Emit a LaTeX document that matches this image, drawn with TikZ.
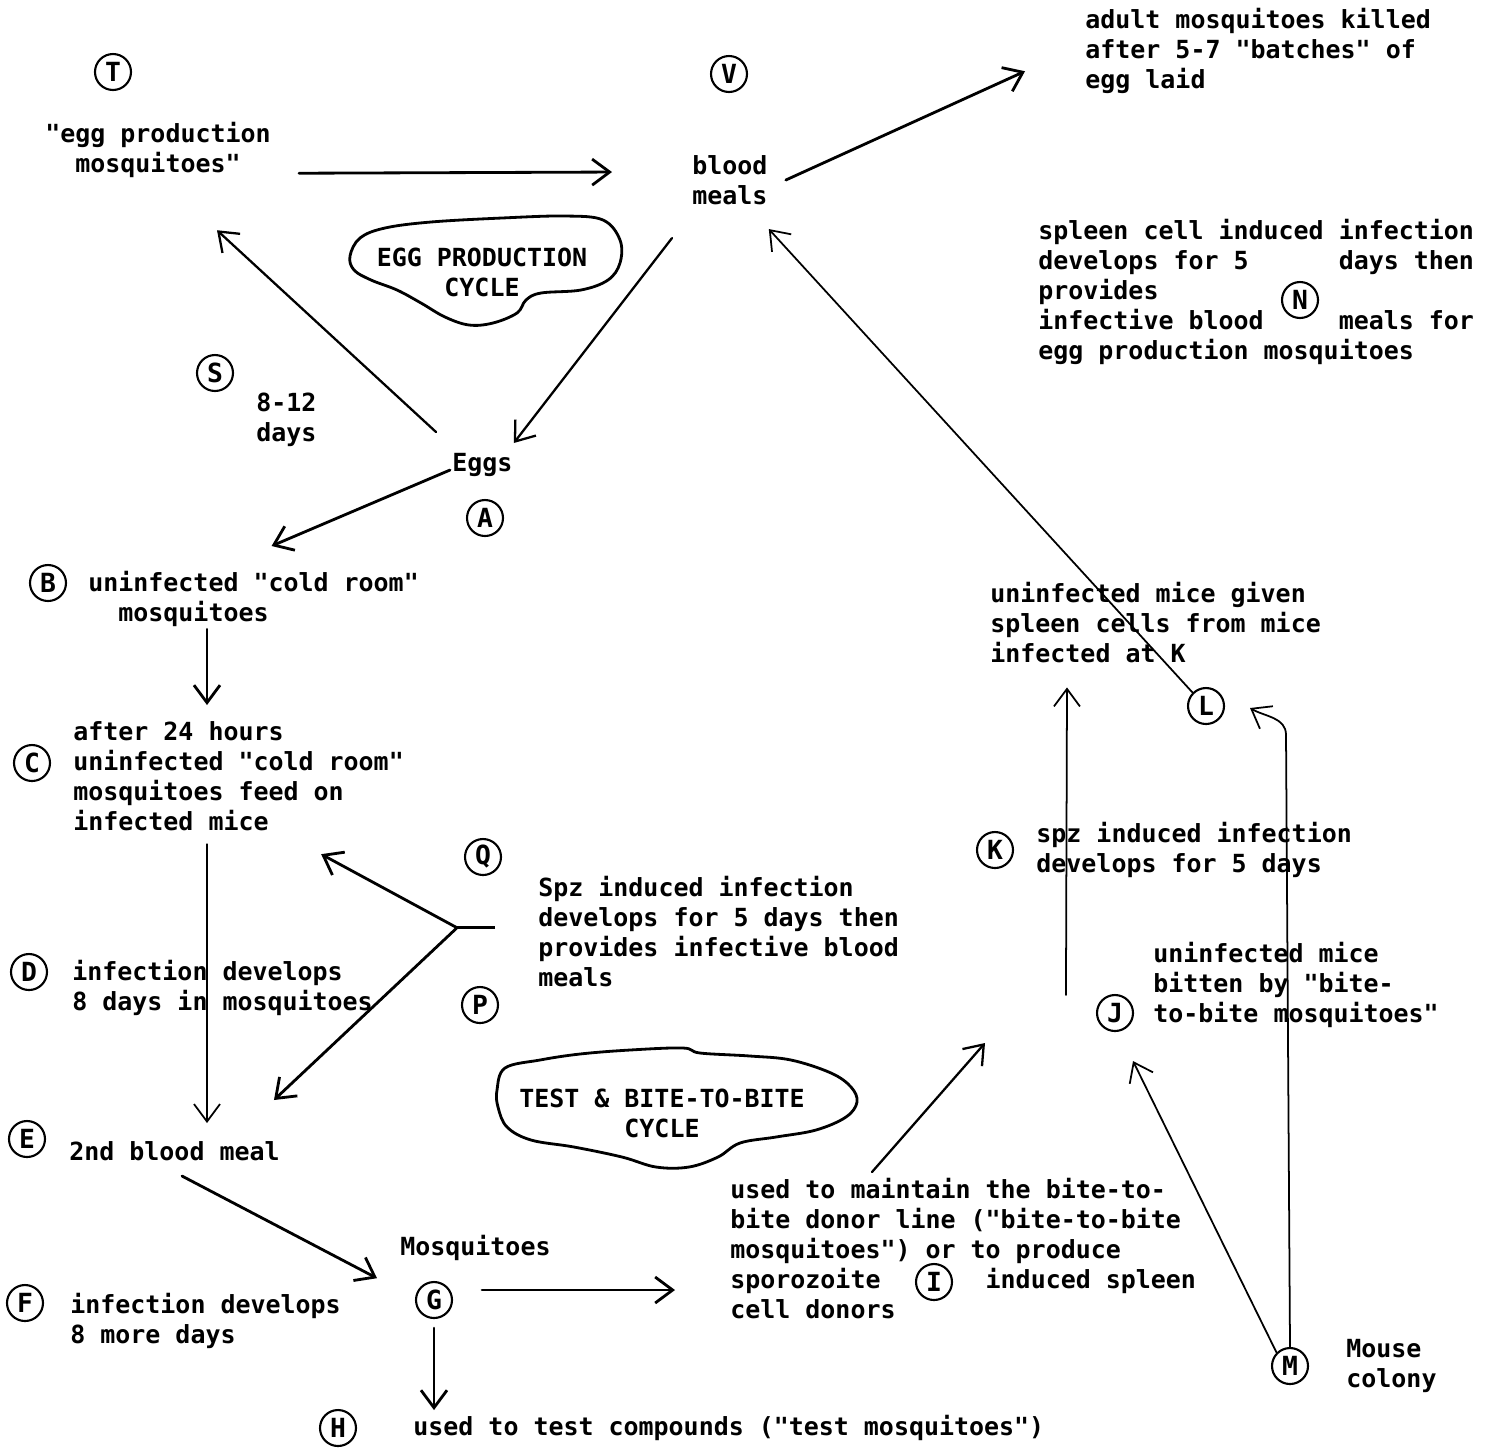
\documentclass[tikz,border=0pt]{standalone}
\usepackage{fontspec}
\usetikzlibrary{arrows.meta}
\usetikzlibrary{positioning}
\newfontfamily\typer{DejaVu Sans Mono}
\tikzset{
    letter/.style={
           circle,
           draw, line width=1.2pt,
           inner sep=0pt,
           minimum size=0.72cm,
           font=\typer\bfseries\fontsize{15}{16}\selectfont,
           },
}
\tikzset{
    note/.style={
           align=left,
           inner sep=0pt,
           anchor=north west,
           font=\typer\bfseries\fontsize{14.2}{17.1}\selectfont,
           },
}
\tikzset{
    blob/.style={
           draw, line width=1.6pt,
           line join=round,
           },
}
\tikzset{
    flow/.style={
           -{Straight Barb[length=3.5mm,width=5.2mm]},
           line width=1.6pt,
           line cap=round,
           },
    thinflow/.style={
           flow,
           line width=1pt,
           },
}

\begin{document}
\begin{tikzpicture}[x=0.02cm,y=-0.02cm]
\useasboundingbox (0,0) rectangle (1493,1448);
\node[letter](T) at (113,72){T};
\node[letter](V) at (729,74){V};
\node[letter](S) at (215,373){S};
\node[letter](A) at (485,518){A};
\node[letter](B) at (48,583){B};
\node[letter](C) at (32,763){C};
\node[letter](Q) at (483,857){Q};
\node[letter](D) at (29,972){D};
\node[letter](P) at (480,1005){P};
\node[letter](E) at (27,1139){E};
\node[letter](F) at (25,1303){F};
\node[letter](G) at (434,1300){G};
\node[letter](H) at (338,1428){H};
\node[letter](I) at (934,1282){I};
\node[letter](J) at (1115,1013){J};
\node[letter](K) at (995,850){K};
\node[letter](L) at (1206,706){L};
\node[letter](M) at (1290,1366){M};
\node[letter](N) at (1300,300){N};

\node[note,anchor=north,align=center](eggprod) at (158,122){"egg production\\mosquitoes"};
\node[note](blood) at (692,155){blood\\meals};
\node[note](adult) at (1085,8){adult mosquitoes killed\\after 5-7 "batches" of\\egg laid};
\node[note](ntext) at (1038,219){spleen cell induced infection\\develops for 5\phantom{xxxxxx}days then\\provides\\infective blood\phantom{xxxxx}meals for\\egg production mosquitoes};
\node[note](stext) at (256,393){8-12\\days};
\node[note](eggs) at (452,453){Eggs};
\node[note](btext) at (88,571){uninfected "cold room"\\\phantom{xx}mosquitoes};
\node[note](ctext) at (73,721){after 24 hours\\uninfected "cold room"\\mosquitoes feed on\\infected mice};
\node[note](dtext) at (72,960){infection develops\\8 days in mosquitoes};
\node[note](spz) at (538,876){Spz induced infection\\develops for 5 days then\\provides infective blood\\meals};
\node[note](etext) at (69,1141){2nd blood meal};
\node[note](ftext) at (70,1293){infection develops\\8 more days};
\node[note](mosq) at (400,1235){Mosquitoes};
\node[note,right=1.12cm of H](htext){used to test compounds ("test mosquitoes")};
\node[note](itext) at (730,1178){used to maintain the bite-to-\\bite donor line ("bite-to-bite\\mosquitoes") or to produce\\sporozoite\phantom{xxxxxxx}induced spleen\\cell donors};
\node[note](jtext) at (1153,942){uninfected mice\\bitten by "bite-\\to-bite mosquitoes"};
\node[note,right=0.44cm of K](ktext){spz induced infection\\develops for 5 days};
\node[note](ltext) at (990,582){uninfected mice given\\spleen cells from mice\\infected at K};
\node[note,right=0.74cm of M](mtext){Mouse\\colony};

\node[note,anchor=center,align=center](eggcycle) at (482,272){EGG PRODUCTION\\CYCLE};
\draw[blob] plot[smooth cycle,tension=0.6] coordinates {(350,256) (360,238) (385,228) (431,222) (502,218) (565,216) (603,220) (620,240) (620,263) (608,280) (581,290) (541,293) (526,300) (517,313) (493,323) (469,325) (445,317) (421,303) (397,290) (371,280) (354,270)};
\node[note,anchor=center,align=center](testcycle) at (662,1113){TEST \& BITE-TO-BITE\\CYCLE};
\draw[blob] plot[smooth cycle,tension=0.6] coordinates {(497,1090) (505,1068) (540,1060) (580,1054) (630,1050) (683,1048) (700,1053) (750,1056) (791,1060) (831,1073) (851,1087) (857,1102) (846,1117) (816,1130) (776,1137) (740,1143) (718,1157) (689,1167) (656,1167) (622,1157) (574,1147) (531,1140) (507,1127) (498,1107)};

\draw[flow] ([shift={(28,-5)}]eggprod.south east) -- ([shift={(-80,-8)}]blood.west);
\draw[flow] ([shift={(18,0)}]blood.east) -- ([shift={(-60,-23)}]adult.south west);
\draw[flow,line width=1.3pt] ([shift={(-20,33)}]blood.south west) -- ([shift={(1,-10)}]eggs.north east);
\draw[flow,line width=1.3pt] ([shift={(-16,-21)}]eggs.north west) -- ([shift={(59,52)}]eggprod.south);
\draw[flow] ([shift={(-2,5)}]eggs.west) -- ([shift={(18,-25)}]btext.north);
\draw[flow] ([shift={(119,2)}]btext.south west) -- ([shift={(134,-16)}]ctext.north west);
\draw[thinflow] ([shift={(134,13)}]ctext.south west) -- ([shift={(138,-18)}]etext.north west);
\coordinate (fork) at ([shift={(-81,-4)}]spz.west);
\draw[line width=1.6pt] ([shift={(-43,-4)}]spz.west) -- (fork);
\draw[flow] (fork) -- ([shift={(-83,23)}]ctext.south east);
\draw[flow] (fork) -- ([shift={(-6,-41)}]etext.north east);
\draw[flow] ([shift={(113,15)}]etext.south west) -- ([shift={(-23,17)}]mosq.south west);
\draw[flow] ([shift={(29,-10)}]G.east) -- ([shift={(-55,112)}]itext.north west);
\draw[flow] ([shift={(0,9)}]G.south) -- ([shift={(0,91)}]G.south);
\draw[flow,line width=1.3pt] ([shift={(142,-6)}]itext.north west) -- ([shift={(-130,30)}]J.center);
\draw[thinflow] (M.north west) -- ([shift={(18,29)}]J.south);
\draw[thinflow] (M.north) -- ++(-4,-612) to[out=90,in=-30] ([shift={(44,2)}]L.center);
\draw[thinflow] ([shift={(-30,-18)}]J.west) -- ([shift={(77,24)}]ltext.south west);
\draw[thinflow] (L.north west) -- ([shift={(1,24)}]blood.south east);
\end{tikzpicture}
\end{document}
